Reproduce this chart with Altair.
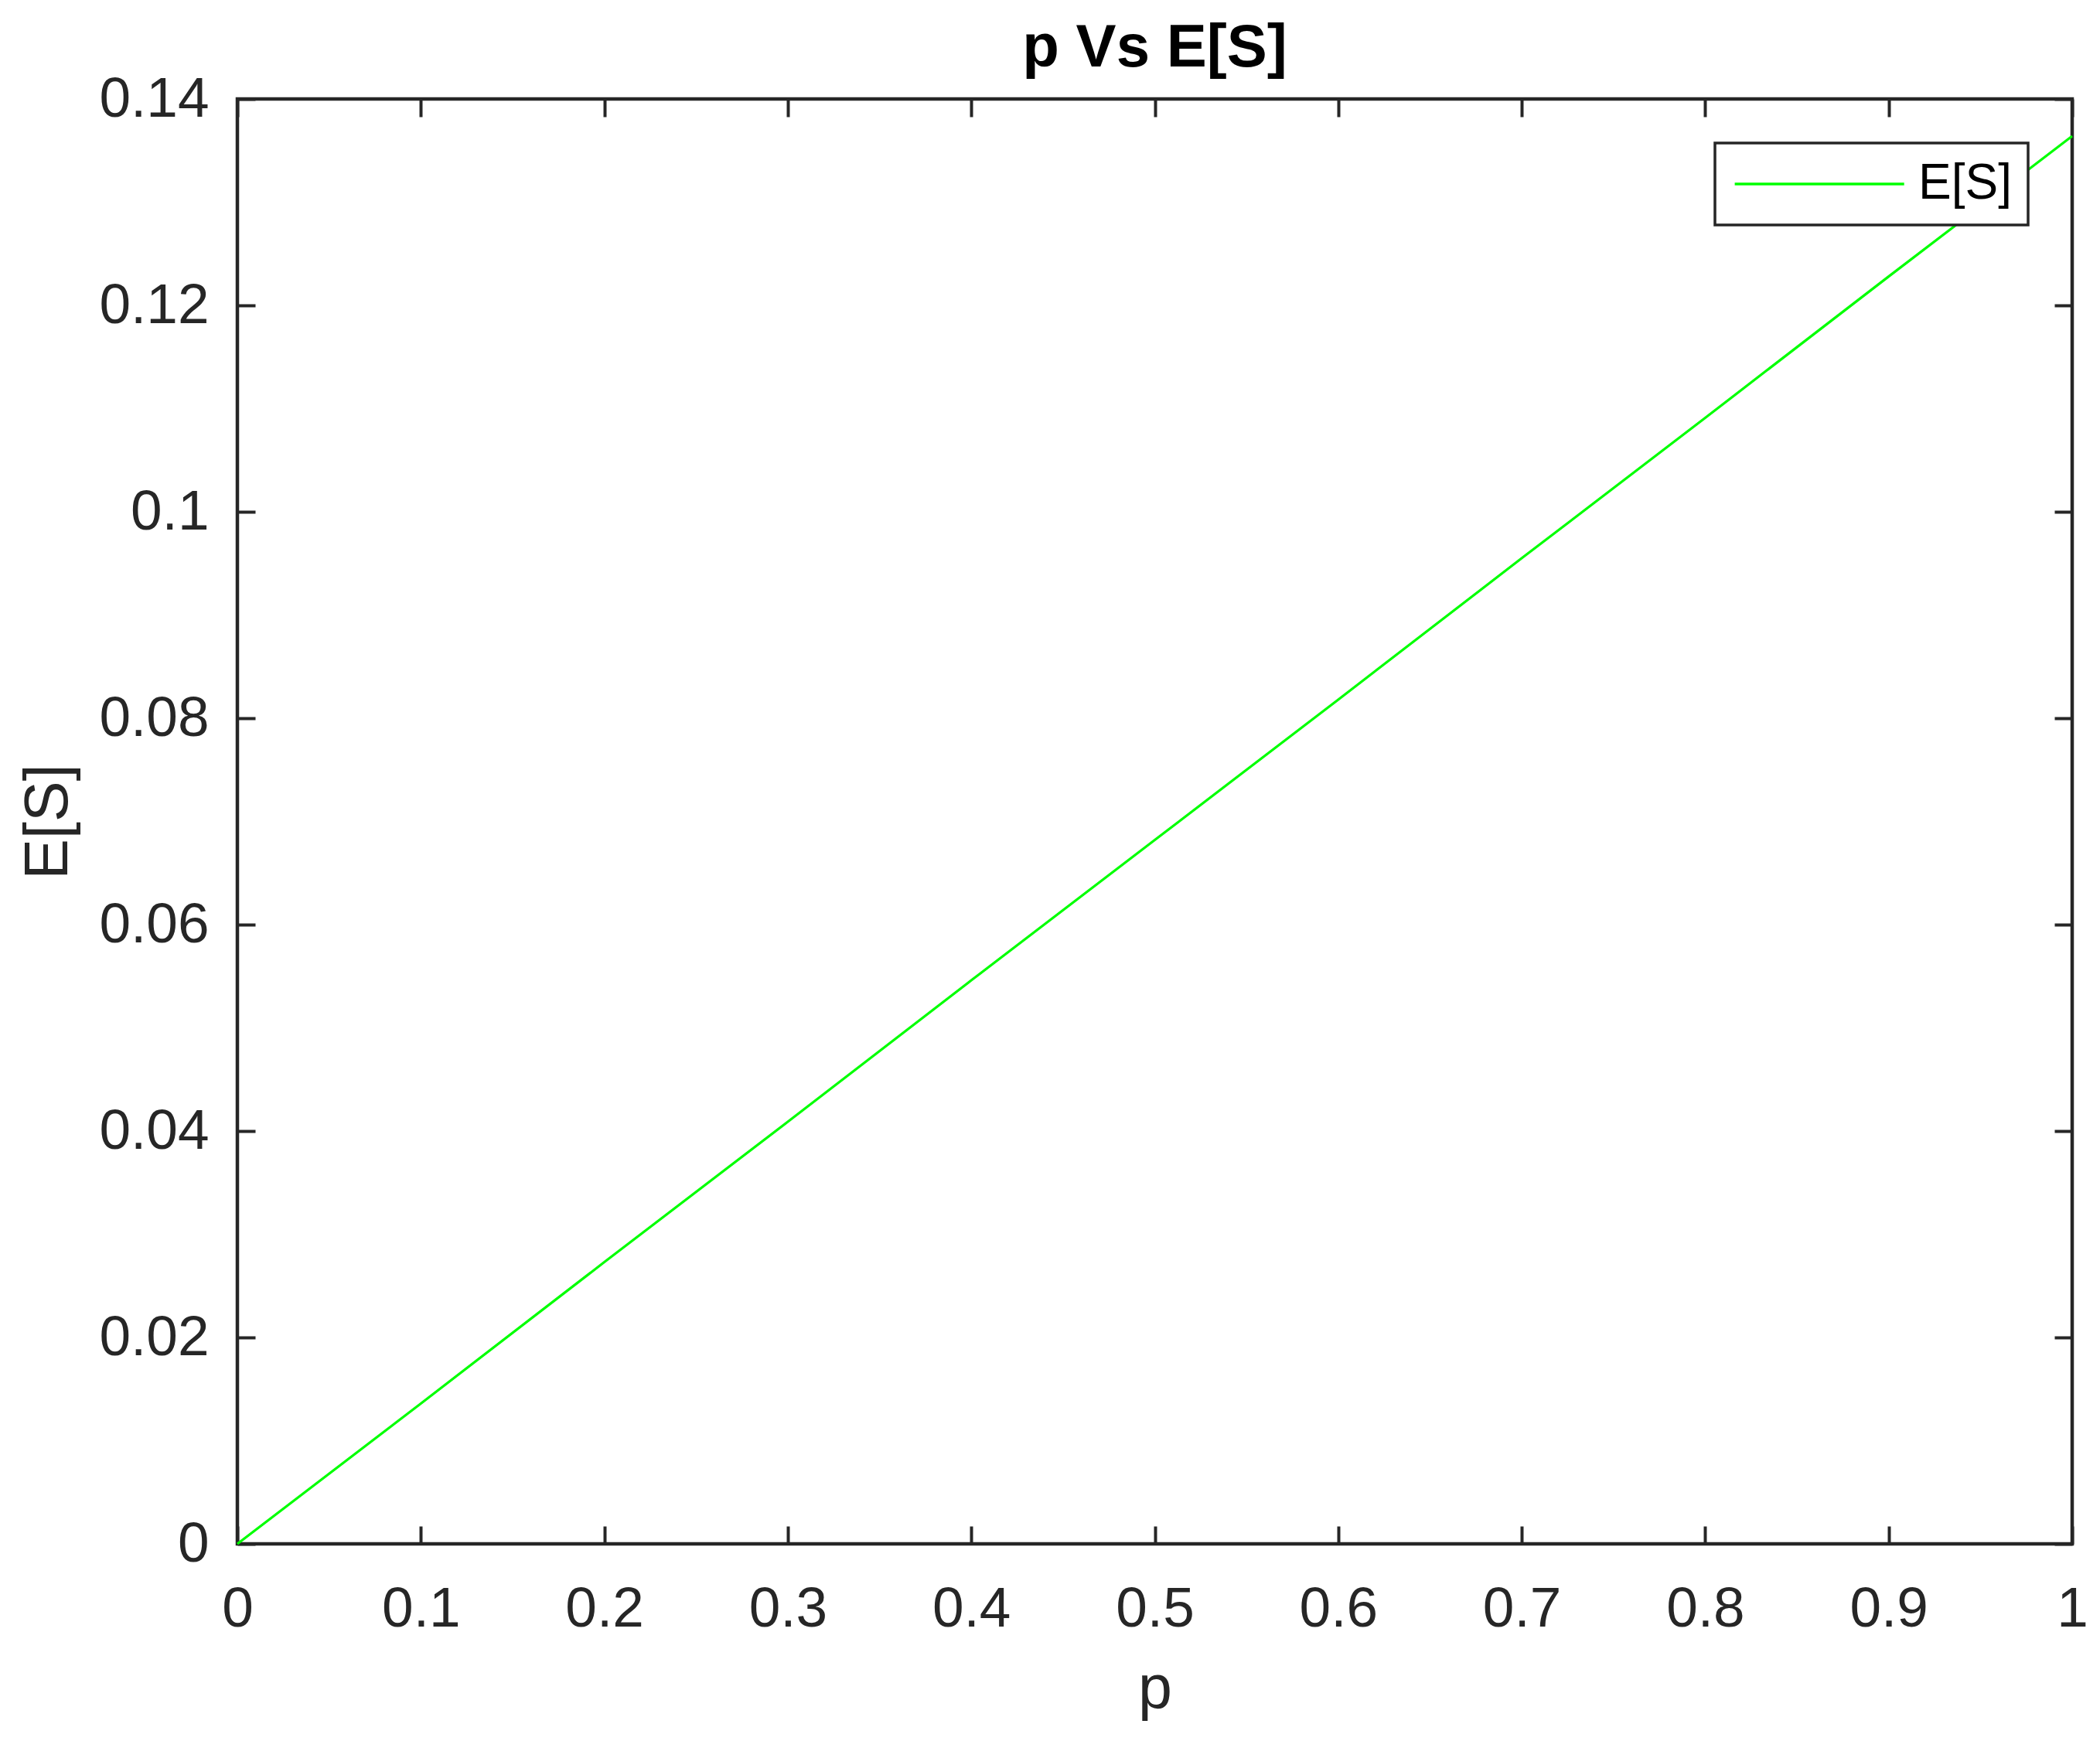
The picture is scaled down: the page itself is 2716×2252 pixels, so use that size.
import altair as alt
import pandas as pd

# ---- data ----
p_values = [0.0, 0.1, 0.2, 0.3, 0.4, 0.5, 0.6, 0.7, 0.8, 0.9, 1.0]
es_values = [0.0, 0.0136, 0.0273, 0.0409, 0.0546, 0.0682, 0.0818, 0.0955, 0.1091, 0.1228, 0.1364]
series_names = ["E[S]"] * len(p_values)
x_ticks = [0, 0.1, 0.2, 0.3, 0.4, 0.5, 0.6, 0.7, 0.8, 0.9, 1]
y_ticks = [0, 0.02, 0.04, 0.06, 0.08, 0.1, 0.12, 0.14]
x_domain = [0, 1]
y_domain = [0, 0.14]

df = pd.DataFrame({"p": p_values, "es": es_values, "series": series_names})

W, H = 2373, 1869
FONT = "Liberation Sans"
INK = "#262626"
TICK_LEN = 23
TICK_W = 4

xs = alt.Scale(domain=x_domain, nice=False, zero=False)
ys = alt.Scale(domain=y_domain, nice=False, zero=False)

label_kw = dict(labelFont=FONT, labelFontSize=73, labelColor=INK, labelFlush=False)

main = alt.Chart(df).mark_line(strokeWidth=3.2).encode(
    x=alt.X("p:Q", scale=xs, title="p",
            axis=alt.Axis(orient="bottom", values=x_ticks, format="~g",
                          ticks=False, tickSize=0, domain=False, grid=False,
                          labelPadding=48, labelBaseline="top", **label_kw,
                          titleFont=FONT, titleFontSize=79, titleFontWeight="normal",
                          titleColor=INK, titleX=W / 2, titleY=211,
                          titleBaseline="alphabetic", titleAlign="center")),
    y=alt.Y("es:Q", scale=ys, title="E[S]",
            axis=alt.Axis(orient="left", values=y_ticks, format="~g",
                          ticks=False, tickSize=0, domain=False, grid=False,
                          labelPadding=37, **label_kw,
                          titleFont=FONT, titleFontSize=79, titleFontWeight="normal",
                          titleColor=INK, titleX=-221, titleY=H / 2, titleAngle=270,
                          titleBaseline="alphabetic", titleAlign="center")),
    color=alt.Color("series:N", title=None,
                    scale=alt.Scale(domain=["E[S]"], range=["#00ff00"]),
                    legend=alt.Legend(orient="top-right", offset=57, padding=21,
                                      strokeColor=INK, fillColor="white",
                                      symbolType="M-1,0H7", symbolSize=3000,
                                      symbolStrokeWidth=3.5, labelOffset=178,
                                      labelFont=FONT, labelFontSize=64,
                                      labelColor="black")),
)


def tick_axis(orient, offset, values):
    return alt.Axis(orient=orient, offset=offset, values=values, labels=False,
                    domain=False, grid=False, ticks=True, tickSize=TICK_LEN,
                    tickWidth=TICK_W, tickColor=INK)


ticks_a = alt.Chart(df).mark_line(strokeOpacity=0).encode(
    x=alt.X("p:Q", scale=xs, title=None, axis=tick_axis("top", -H, x_ticks)),
    y=alt.Y("es:Q", scale=ys, title=None, axis=tick_axis("right", -W, y_ticks)),
)
ticks_b = alt.Chart(df).mark_line(strokeOpacity=0).encode(
    x=alt.X("p:Q", scale=xs, title=None, axis=tick_axis("bottom", -H, x_ticks)),
    y=alt.Y("es:Q", scale=ys, title=None, axis=tick_axis("left", -W, y_ticks)),
)

chart = (
    alt.layer(main, ticks_a, ticks_b)
    .resolve_axis(x="independent", y="independent")
    .properties(
        width=W, height=H,
        padding={"left": 299, "top": 120, "right": 28, "bottom": 247},
        autosize=alt.AutoSizeParams(type="none"),
        title=alt.Title("p Vs E[S]", font=FONT, fontSize=78, fontWeight="bold",
                        color="black", anchor="middle", baseline="alphabetic",
                        offset=-72),
        background="white",
    )
    .configure_view(stroke=INK, strokeWidth=4.5)
    .configure_legend(strokeWidth=3.5)
)

chart.save("out.html", embed_options={"renderer": "svg", "actions": False})
